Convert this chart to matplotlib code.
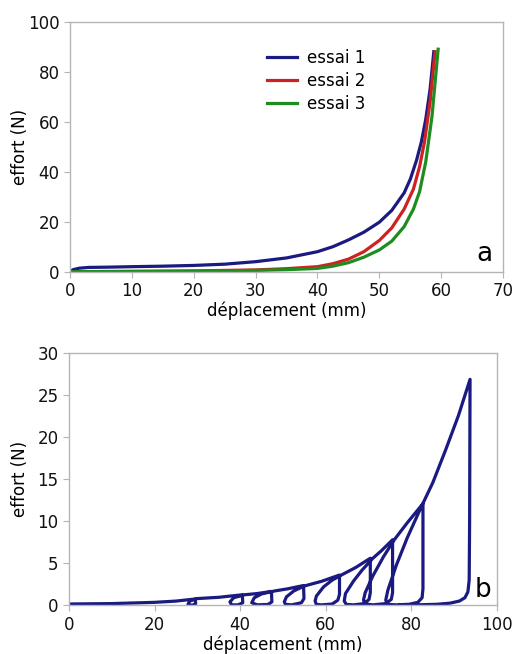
import matplotlib
matplotlib.use("Agg")
import matplotlib.pyplot as plt

# --- (a) monotonic loading, three trials
x_essai1 = [0, 0.5, 1.5, 3, 6, 10, 15, 20, 25, 30, 35, 40, 42.5, 45, 47.5, 50, 52, 54, 55, 56, 56.8, 57.5, 58.2, 58.8]
y_essai1 = [0, 0.8, 1.4, 1.7, 1.8, 2.0, 2.2, 2.5, 3.0, 4.0, 5.5, 8.0, 10.0, 12.7, 15.8, 19.8, 24.5, 31.5, 37, 44.5, 52, 61, 73, 88]

x_essai2 = [0, 10, 20, 30, 35, 40, 42.5, 45, 47.5, 50, 52, 54, 55.5, 56.5, 57.3, 58.2, 59]
y_essai2 = [0, 0.1, 0.3, 0.7, 1.2, 2.0, 3.2, 5.0, 8.0, 12.5, 17.5, 25, 33, 42, 52, 68, 88]

x_essai3 = [0, 10, 20, 30, 35, 40, 42.5, 45, 47.5, 50, 52, 54, 55.5, 56.5, 57.5, 58.5, 59.5]
y_essai3 = [0, 0.1, 0.2, 0.5, 0.8, 1.3, 2.2, 3.6, 5.8, 8.7, 12.2, 18, 25, 32, 44, 62, 89]

# --- (b) cyclic loading path, traced point by point
x_cycle = [0, 10, 20, 25, 29.5,
           29.6, 28.8, 27.8, 28.2, 30, 35, 40.5,
           40.6, 39.5, 38, 37.6, 38.5, 41, 44, 47.3,
           47.4, 46.5, 44, 42.7, 43.3, 45, 48, 51, 54.8,
           54.9, 54.3, 52, 50.6, 50.3, 50.8, 52.5, 55, 59, 63.2,
           63.2, 62.8, 61.5, 59, 57.8, 57.5, 57.8, 59.5, 61.5, 64, 67, 70.4,
           70.4, 70.1, 69, 66.5, 64.8, 64.3, 64.6, 66.5, 68.5, 71, 73, 75.6,
           75.6, 75.3, 74, 71, 69.3, 68.8, 69.2, 71, 73.5, 76, 79, 82.7,
           82.7, 82.5, 81.5, 79.5, 76.5, 74.5, 74, 74.5, 76.5, 79, 82.2, 85, 88, 91, 93.7,
           93.6, 93.5, 93.2, 92.5, 91.2, 89, 86, 82, 79, 77.3]
f_cycle = [0.15, 0.2, 0.35, 0.5, 0.75,
           0.2, 0.0, 0.1, 0.5, 0.8, 0.95, 1.25,
           0.3, 0.05, 0.05, 0.4, 0.9, 1.25, 1.4, 1.65,
           0.4, 0.1, 0.05, 0.3, 0.9, 1.35, 1.7, 1.95, 2.35,
           0.8, 0.3, 0.05, 0.1, 0.4, 1.0, 1.7, 2.3, 2.85, 3.6,
           1.3, 0.6, 0.15, 0.05, 0.1, 0.5, 1.1, 2.2, 3.0, 3.7, 4.5, 5.6,
           1.5, 0.7, 0.2, 0.05, 0.1, 0.5, 1.4, 2.9, 4.2, 5.6, 6.5, 7.8,
           1.5, 0.7, 0.2, 0.05, 0.15, 0.6, 1.5, 3.5, 5.8, 7.8, 9.8, 12.1,
           2.0, 0.9, 0.35, 0.12, 0.05, 0.1, 0.6, 1.8, 4.8, 8.0, 11.6, 14.6, 18.5, 22.6, 26.9,
           10, 3, 1.6, 0.9, 0.5, 0.25, 0.12, 0.06, 0.05, 0.05]

NAVY = "#1a1a80"
RED = "#cc2222"
GREEN = "#1e8c1e"
GRID_GREY = "#b5b5b5"

plt.rcParams["font.family"] = "DejaVu Sans"
plt.rcParams["font.size"] = 12


def style_axes(ax):
    for side in ["left", "right", "top", "bottom"]:
        ax.spines[side].set_color(GRID_GREY)
        ax.spines[side].set_linewidth(1.0)
    ax.tick_params(direction="out", length=4, color=GRID_GREY, labelsize=12,
                   labelcolor="#111111")


fig = plt.figure(figsize=(5.16, 6.54), dpi=100)

ax1 = fig.add_axes([0.1357, 0.5846, 0.8393, 0.3822])
ax1.plot(x_essai1, y_essai1, color=NAVY, lw=2.3, label="essai 1")
ax1.plot(x_essai2, y_essai2, color=RED, lw=2.3, label="essai 2")
ax1.plot(x_essai3, y_essai3, color=GREEN, lw=2.3, label="essai 3")
ax1.set_xlim(0, 70)
ax1.set_ylim(0, 100)
ax1.set_xticks(range(0, 71, 10))
ax1.set_yticks(range(0, 101, 20))
ax1.set_xlabel("déplacement (mm)", labelpad=1)
ax1.set_ylabel("effort (N)")
ax1.yaxis.set_label_coords(-0.095, 0.5)
ax1.text(0.958, 0.07, "a", transform=ax1.transAxes, fontsize=19,
         ha="center", va="center")
ax1.legend(loc="upper left", bbox_to_anchor=(0.42, 0.95), frameon=False,
           handlelength=1.8, handletextpad=0.6, labelspacing=0.3, fontsize=12)
style_axes(ax1)

ax2 = fig.add_axes([0.1337, 0.0745, 0.8295, 0.3853])
ax2.plot(x_cycle, f_cycle, color=NAVY, lw=2.3)
ax2.set_xlim(0, 100)
ax2.set_ylim(0, 30)
ax2.set_xticks(range(0, 101, 20))
ax2.set_yticks(range(0, 31, 5))
ax2.set_xlabel("déplacement (mm)", labelpad=1)
ax2.set_ylabel("effort (N)")
ax2.yaxis.set_label_coords(-0.094, 0.5)
ax2.text(0.967, 0.06, "b", transform=ax2.transAxes, fontsize=19,
         ha="center", va="center")
style_axes(ax2)

fig.savefig("out.png", dpi=100)
